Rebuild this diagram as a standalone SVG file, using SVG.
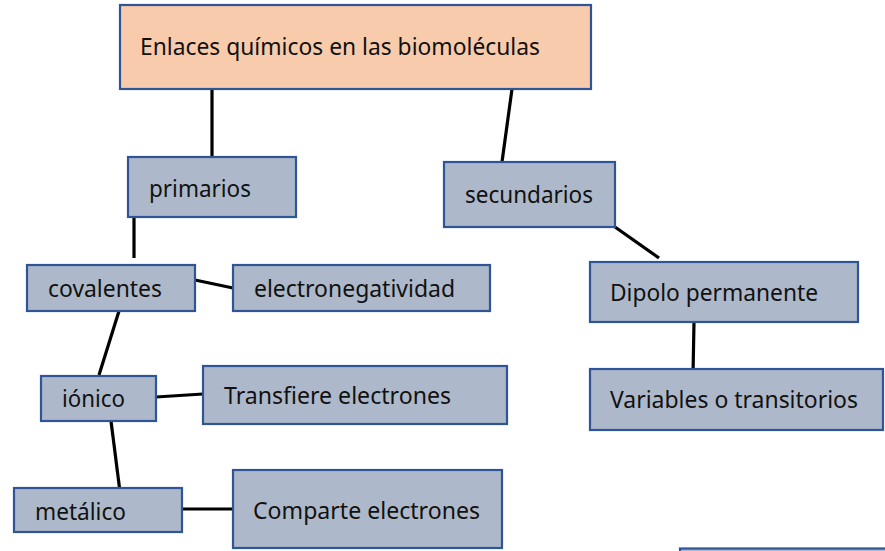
<svg xmlns="http://www.w3.org/2000/svg" width="885" height="551" viewBox="0 0 885 551">
<style>
.box{fill:#adb9ca;stroke:#2f5597;stroke-width:2.2}
.top{fill:#f8cbad;stroke:#2f5597;stroke-width:2.2}
.lbl{font-family:"Noto Sans","Open Sans",sans-serif;font-size:23px;fill:#111}
.conn line{stroke:#000;stroke-width:3.2;stroke-linecap:butt}
</style>
<rect width="885" height="551" fill="#fff"/>
<g class="conn" id="connectors">
<line x1="212" y1="89" x2="212" y2="157"/>
<line x1="512" y1="89" x2="502" y2="162"/>
<line x1="134" y1="217" x2="134" y2="258"/>
<line x1="195" y1="280" x2="233" y2="288"/>
<line x1="119" y1="311" x2="99" y2="375"/>
<line x1="156" y1="397" x2="203" y2="394"/>
<line x1="111" y1="421" x2="120" y2="492"/>
<line x1="182" y1="509" x2="233" y2="509"/>
<line x1="615" y1="227" x2="659" y2="258"/>
<line x1="694" y1="322" x2="693" y2="375"/>
</g>
<g id="n-enlaces"><rect class="top" x="120" y="5" width="471" height="84"/><text class="lbl" x="140" y="55" textLength="400" lengthAdjust="spacingAndGlyphs">Enlaces químicos en las biomoléculas</text></g>
<g id="n-primarios"><rect class="box" x="128" y="157" width="168" height="60"/><text class="lbl" x="149" y="197" textLength="102" lengthAdjust="spacingAndGlyphs">primarios</text></g>
<g id="n-secundarios"><rect class="box" x="444" y="162" width="171" height="65"/><text class="lbl" x="465" y="203" textLength="128" lengthAdjust="spacingAndGlyphs">secundarios</text></g>
<g id="n-covalentes"><rect class="box" x="27" y="265" width="168" height="46"/><text class="lbl" x="48" y="297" textLength="114" lengthAdjust="spacingAndGlyphs">covalentes</text></g>
<g id="n-electroneg"><rect class="box" x="233" y="265" width="257" height="46"/><text class="lbl" x="254" y="297" textLength="201" lengthAdjust="spacingAndGlyphs">electronegatividad</text></g>
<g id="n-dipolo"><rect class="box" x="590" y="262" width="268" height="60"/><text class="lbl" x="610" y="301" textLength="208" lengthAdjust="spacingAndGlyphs">Dipolo permanente</text></g>
<g id="n-ionico"><rect class="box" x="41" y="376" width="115" height="45"/><text class="lbl" x="62" y="407" textLength="63" lengthAdjust="spacingAndGlyphs">iónico</text></g>
<g id="n-transfiere"><rect class="box" x="203" y="366" width="304" height="58"/><text class="lbl" x="224" y="404" textLength="227" lengthAdjust="spacingAndGlyphs">Transfiere electrones</text></g>
<g id="n-variables"><rect class="box" x="590" y="369" width="293" height="61"/><text class="lbl" x="610" y="408" textLength="248" lengthAdjust="spacingAndGlyphs">Variables o transitorios</text></g>
<g id="n-metalico"><rect class="box" x="14" y="488" width="168" height="44"/><text class="lbl" x="35" y="520" textLength="91" lengthAdjust="spacingAndGlyphs">metálico</text></g>
<g id="n-comparte"><rect class="box" x="233" y="470" width="269" height="78"/><text class="lbl" x="253" y="519" textLength="227" lengthAdjust="spacingAndGlyphs">Comparte electrones</text></g>
<g id="n-partial"><rect class="box" x="680" y="548.5" width="220" height="40"/></g>
</svg>
